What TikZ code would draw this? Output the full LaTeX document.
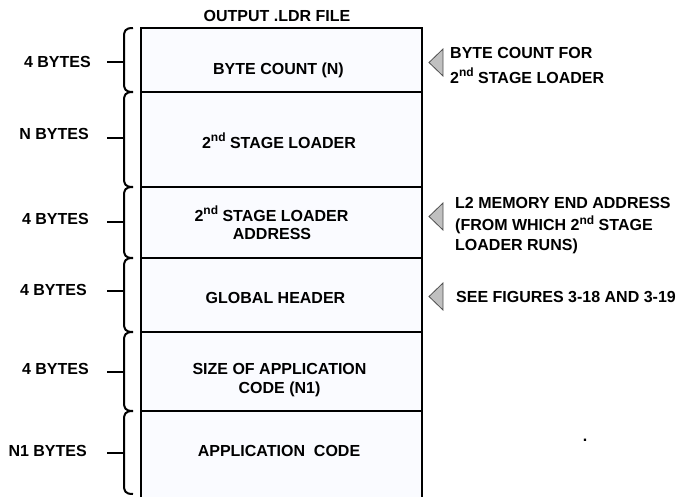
\documentclass[tikz,border=0pt]{standalone}
\usepackage{fontspec}
\setmainfont{Liberation Sans}
\definecolor{boxfill}{RGB}{250,251,255}
\definecolor{trifill}{RGB}{192,192,192}
\definecolor{triline}{RGB}{80,80,80}
\newcommand\ndsup{\raisebox{6.5pt}{\fontsize{12}{12}\selectfont nd}}
\begin{document}
\begin{tikzpicture}[x=1pt,y=-1pt,
  lbl/.style={font=\fontsize{16}{20}\selectfont\bfseries, inner sep=0pt, anchor=base},
  lbll/.style={lbl, anchor=base west},
  lblr/.style={lbl, anchor=base east},
  frame/.style={line width=2.6pt, line join=miter},
  rowline/.style={line width=2.6pt},
  brace/.style={line width=2pt},
  tick/.style={line width=2.4pt},
  marker/.style={fill=trifill, draw=triline, line width=0.8pt, line join=miter}]
\useasboundingbox (0,0) rectangle (680,496);
% file frame
\coordinate (tl) at (141,28);
\coordinate (tr) at (422,28);
\coordinate (bl) at (141,498);
\coordinate (br) at (422,498);
\fill[boxfill] (tl) rectangle (br);
\foreach \y/\n in {92/a,187/b,258/c,332/d,411/e}{
  \coordinate (L\n) at (141,\y);
  \coordinate (R\n) at (422,\y);
  \draw[rowline] (L\n) -- (R\n);
}
\draw[frame] (bl) -- (tl) -- (tr) -- (br);
% title
\node[lbl] (title) at (277,21.5) {OUTPUT .LDR FILE};
% row texts
\node[lbl] (r1) at (278.5,74) {BYTE COUNT (N)};
\node[lbl] (r2) at (279,148) {2\ndsup{} STAGE LOADER};
\node[lbl] (r3a) at (271.5,221) {2\ndsup{} STAGE LOADER};
\node[lbl] (r3b) at (272,239) {ADDRESS};
\node[lbl] (r4) at (275.5,303) {GLOBAL HEADER};
\node[lbl] (r5a) at (279.5,374) {SIZE OF APPLICATION};
\node[lbl] (r5b) at (279.5,393.5) {CODE (N1)};
\node[lbl] (r6) at (279,456) {APPLICATION\ \ CODE};
% braces
\foreach \t/\b in {28/92,92/187,187/258,258/332,332/411,411/494}{
  \draw[brace] (133,\t) .. controls (125,\t) and (124,\t+3) .. (124,\t+9)
    -- (124,\b-9) .. controls (124,\b-3) and (125,\b) .. (133,\b);
}
% ticks and size labels
\foreach \y/\n in {62/1,138/2,222/3,291/4,372/5,453/6}{
  \coordinate (ts\n) at (107,\y);
  \coordinate (te\n) at (124,\y);
  \draw[tick] (ts\n) -- (te\n);
}
\node[lblr] (s1) at (91,67) {4 BYTES};
\node[lblr] (s2) at (89,139) {N BYTES};
\node[lblr] (s3) at (89,224) {4 BYTES};
\node[lblr] (s4) at (87,295.5) {4 BYTES};
\node[lblr] (s5) at (89,374) {4 BYTES};
\node[lblr] (s6) at (87,456) {N1 BYTES};
% markers
\foreach \y/\n in {62.5/1,216.5/2,296.5/3}{
  \coordinate (m\n) at (429,\y);
  \draw[marker] (m\n) -- (443,\y-13.5) -- (443,\y+13.5) -- cycle;
}
% annotations
\node[lbll] (n1a) at (450,58.5) {BYTE COUNT FOR};
\node[lbll] (n1b) at (450,83.3) {2\ndsup{} STAGE LOADER};
\node[lbll] (n2a) at (455,208.3) {L2 MEMORY END ADDRESS};
\node[lbll] (n2b) at (455,230.5) {(FROM WHICH 2\ndsup{} STAGE};
\node[lbll] (n2c) at (455,250) {LOADER RUNS)};
\node[lbll] (n3) at (456,302.5) {SEE FIGURES 3-18 AND 3-19};
\node[lbl] (dot) at (585,441) {.};
\end{tikzpicture}
\end{document}
